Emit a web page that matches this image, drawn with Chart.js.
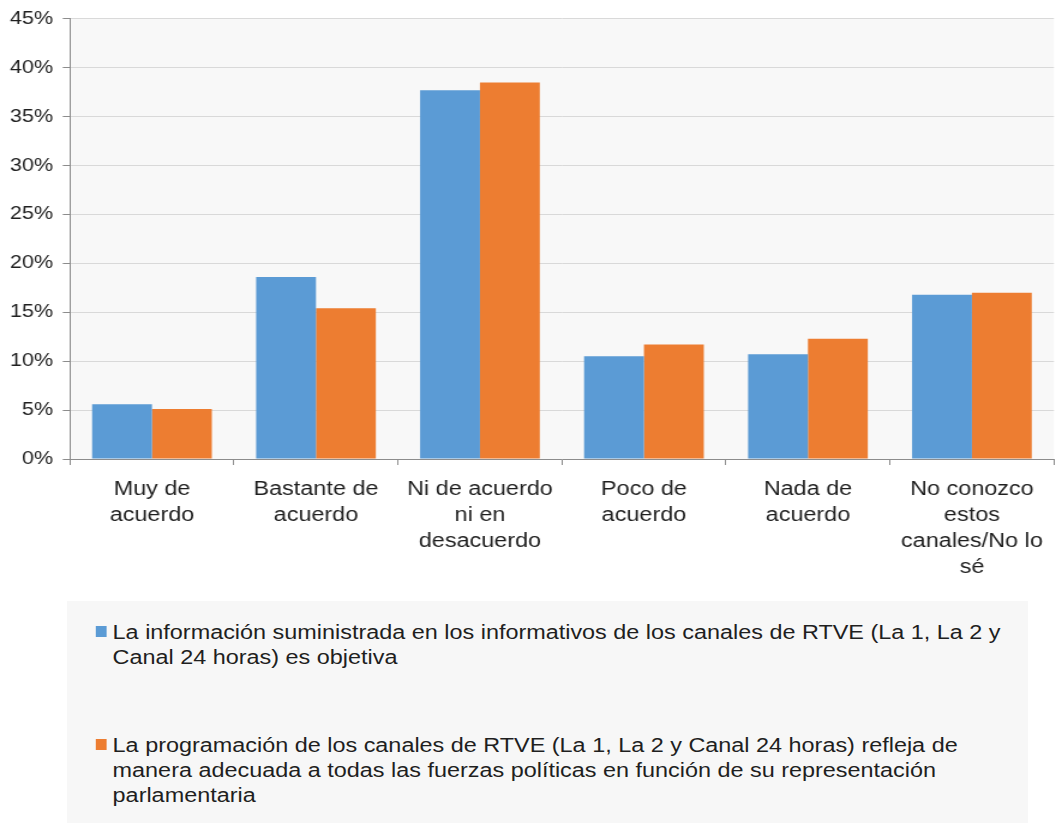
<!DOCTYPE html>
<html>
<head>
<meta charset="utf-8">
<script src="https://cdn.jsdelivr.net/npm/chart.js@4/dist/chart.umd.min.js"></script>
<style>
  body { margin: 0; background: #fff; font-family: 'Liberation Sans', Arial, sans-serif; }
  #wrap { position: relative; width: 1057px; height: 823px; overflow: hidden; }
  /* the reference is stretched horizontally, so draw narrower and scale x */
  #chart-box {
    position: absolute; left: 0; top: 0; width: 881px; height: 590px;
    transform: scaleX(1.2); transform-origin: 0 0;
  }
  #legend {
    position: absolute; left: 67px; top: 601px; width: 961px; height: 222px;
    background: #f7f7f7;
  }
  #legend-inner {
    position: absolute; left: 0; top: 0; width: 800px; height: 222px;
    transform: scaleX(1.2); transform-origin: 0 0;
    color: #1f1f1f; font-size: 19.5px; line-height: 25px;
  }
  .item { position: absolute; left: 38px; width: 755px; }
  .sw { position: absolute; left: -14px; top: 6px; width: 8.5px; height: 11px; }
</style>
</head>
<body>
<div id="wrap">
  <div id="chart-box"><canvas id="c"></canvas></div>
  <div id="legend"><div id="legend-inner"></div></div>
</div>
<script>
const categories = [
  ['Muy de', 'acuerdo'],
  ['Bastante de', 'acuerdo'],
  ['Ni de acuerdo', 'ni en', 'desacuerdo'],
  ['Poco de', 'acuerdo'],
  ['Nada de', 'acuerdo'],
  ['No conozco', 'estos', 'canales/No lo', 'sé']
];
const seriesNames = [
  'La información suministrada en los informativos de los canales de RTVE (La 1, La 2 y Canal 24 horas) es objetiva',
  'La programación de los canales de RTVE (La 1, La 2 y Canal 24 horas) refleja de manera adecuada a todas las fuerzas políticas en función de su representación parlamentaria'
];
const informacion = [5.6, 18.6, 37.7, 10.5, 10.7, 16.8];
const programacion = [5.1, 15.4, 38.5, 11.7, 12.3, 17.0];
const colors = ['#5b9bd5', '#ed7d31'];

// Plot area background
const plotBg = {
  id: 'plotBg',
  beforeDraw(chart) {
    const a = chart.chartArea;
    const ctx = chart.ctx;
    ctx.save();
    ctx.fillStyle = '#f8f8f8';
    ctx.fillRect(a.left, a.top, a.right - a.left, a.bottom - a.top);
    ctx.restore();
  }
};

new Chart(document.getElementById('c'), {
  type: 'bar',
  data: {
    labels: categories,
    datasets: [
      { label: seriesNames[0], data: informacion, backgroundColor: colors[0] },
      { label: seriesNames[1], data: programacion, backgroundColor: colors[1] }
    ]
  },
  options: {
    responsive: true,
    maintainAspectRatio: false,
    animation: false,
    layout: { padding: { top: 17, right: 0, left: 0, bottom: 0 } },
    datasets: { bar: { categoryPercentage: 0.73, barPercentage: 1 } },
    scales: {
      x: {
        afterFit(s) { s.height = 131; },
        grid: { display: true, drawOnChartArea: false, offset: true, tickLength: 6, tickColor: '#8c8c8c' },
        border: { color: '#8c8c8c' },
        ticks: {
          color: '#1f1f1f', padding: 12, maxRotation: 0, autoSkip: false,
          font: { family: "'Liberation Sans', Arial, sans-serif", size: 19.5, lineHeight: '26px' }
        }
      },
      y: {
        min: 0, max: 45,
        afterFit(s) { s.width = 58.3; },
        grid: { color: '#d9d9d9', tickLength: 6, tickColor: '#8c8c8c' },
        border: { color: '#8c8c8c' },
        ticks: {
          stepSize: 5, color: '#1f1f1f', padding: 8,
          font: { family: "'Liberation Sans', Arial, sans-serif", size: 18 },
          callback: v => v + '%'
        }
      }
    },
    plugins: { legend: { display: false }, tooltip: { enabled: false } }
  },
  plugins: [plotBg]
});

// HTML legend
const legend = document.getElementById('legend-inner');
const tops = [19, 132];
seriesNames.forEach((name, i) => {
  const d = document.createElement('div');
  d.className = 'item';
  d.style.top = tops[i] + 'px';
  const sw = document.createElement('span');
  sw.className = 'sw';
  sw.style.background = colors[i];
  d.appendChild(sw);
  d.appendChild(document.createTextNode(name));
  legend.appendChild(d);
});
</script>
</body>
</html>
